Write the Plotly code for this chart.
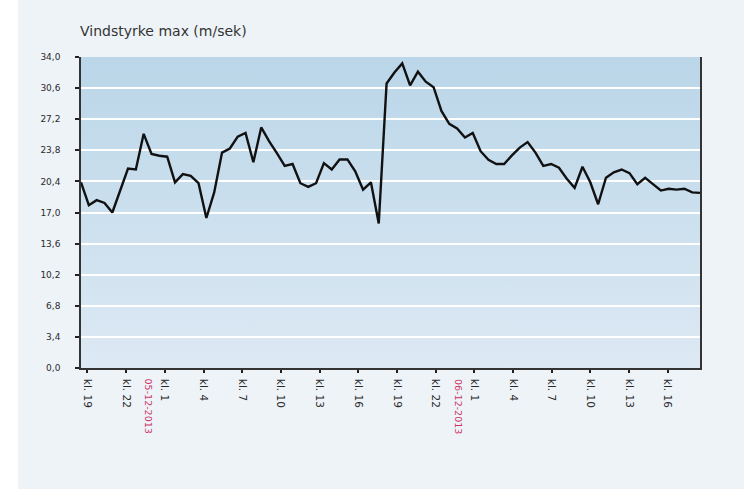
import base64
import pandas as pd
import plotly.graph_objects as go

# ---- data ----
wind_max = [
    20.3, 17.8, 18.35, 18.05, 17.0, 19.4, 21.8, 21.7, 25.6, 23.4,
    23.2, 23.1, 20.3, 21.2, 21.0, 20.2, 16.4, 19.2, 23.55, 24.0,
    25.3, 25.7, 22.5, 26.3, 24.8, 23.5, 22.1, 22.3, 20.2, 19.8,
    20.2, 22.4, 21.7, 22.8, 22.8, 21.5, 19.5, 20.3, 15.8, 31.1,
    32.3, 33.3, 30.9, 32.4, 31.3, 30.7, 28.1, 26.7, 26.2, 25.2,
    25.7, 23.7, 22.75, 22.3, 22.3, 23.25, 24.1, 24.7, 23.55, 22.1,
    22.3, 21.9, 20.7, 19.7, 22.0, 20.3, 17.9, 20.8, 21.4, 21.7,
    21.3, 20.1, 20.8, 20.1, 19.4, 19.6, 19.5, 19.6, 19.2, 19.15,
]
times = pd.date_range("2013-12-04 18:30", "2013-12-06 18:30", periods=len(wind_max))

tick_times = pd.date_range("2013-12-04 19:00", "2013-12-06 16:00", freq="3h")
tick_labels = ["kl. %d" % t.hour for t in tick_times]
date_marks = ["2013-12-05 00:00", "2013-12-06 00:00"]
date_labels = ["05-12-2013", "06-12-2013"]
y_ticks = [0.0, 3.4, 6.8, 10.2, 13.6, 17.0, 20.4, 23.8, 27.2, 30.6, 34.0]

title_text = "Vindstyrke max (m/sek)"

# ---- gradient background for the plot area ----
svg = ("<svg xmlns='http://www.w3.org/2000/svg' width='100' height='100' "
       "preserveAspectRatio='none'><defs><linearGradient id='g' x1='0' y1='0' "
       "x2='0' y2='1'><stop offset='0' stop-color='#bad6e8'/>"
       "<stop offset='1' stop-color='#dde9f4'/></linearGradient></defs>"
       "<rect width='100' height='100' fill='url(#g)'/></svg>")
svg_uri = "data:image/svg+xml;base64," + base64.b64encode(svg.encode()).decode()

FONT = "DejaVu Sans"
LEFT_STRIP = 18  # white strip at the left of the page

fig = go.Figure()
fig.add_trace(go.Scatter(
    x=times, y=wind_max, mode="lines",
    line=dict(color="#111111", width=2.4),
    hoverinfo="x+y", showlegend=False,
))

annotations = []
for d, lab in zip(date_marks, date_labels):
    annotations.append(dict(
        x=d, y=0, xref="x", yref="paper", yanchor="top", xanchor="center",
        text=lab, showarrow=False, textangle=90, yshift=-9, xshift=-3,
        font=dict(family=FONT, size=9.5, color="#cc3366"),
    ))

fig.update_layout(
    width=744 - LEFT_STRIP, height=489,
    paper_bgcolor="#eef3f8",
    plot_bgcolor="rgba(0,0,0,0)",
    margin=dict(l=81 - LEFT_STRIP, r=44, t=57, b=121, pad=0),
    separators=",.",
    title=dict(text=title_text, xref="container", yref="container",
               x=(80 - LEFT_STRIP) / (744 - LEFT_STRIP), xanchor="left",
               y=1 - 31 / 489, yanchor="middle",
               font=dict(family=FONT, size=14, color="#333333")),
    images=[dict(source=svg_uri, xref="paper", yref="paper", x=0, y=1,
                 sizex=1, sizey=1, xanchor="left", yanchor="top",
                 sizing="stretch", layer="below")],
    annotations=annotations,
    xaxis=dict(
        range=[times[0], times[-1]],
        tickvals=tick_times, ticktext=tick_labels, tickangle=90,
        ticks="outside", ticklen=3, tickwidth=2, tickcolor="#222222",
        showgrid=False, zeroline=False,
        showline=True, linecolor="#333333", linewidth=1.5, mirror=False,
        tickfont=dict(family=FONT, size=10.5, color="#2a2a2a"),
        ticklabelstandoff=4,
    ),
    yaxis=dict(
        range=[0, 34], tickvals=y_ticks, tickformat=".1f",
        ticks="outside", ticklen=4, tickwidth=2, tickcolor="#222222",
        showgrid=True, gridcolor="#ffffff", gridwidth=2,
        zeroline=False,
        showline=True, linecolor="#333333", linewidth=1.5, mirror=True,
        tickfont=dict(family=FONT, size=9, color="#2a2a2a"),
        ticklabelstandoff=13,
    ),
)

fig.write_html(
    "out.html",
    post_script=("document.body.style.margin='0';"
                 "document.body.style.padding='0 0 0 %dpx';"
                 "document.body.style.background='#ffffff';"
                 "document.body.style.overflow='hidden';" % LEFT_STRIP),
)
